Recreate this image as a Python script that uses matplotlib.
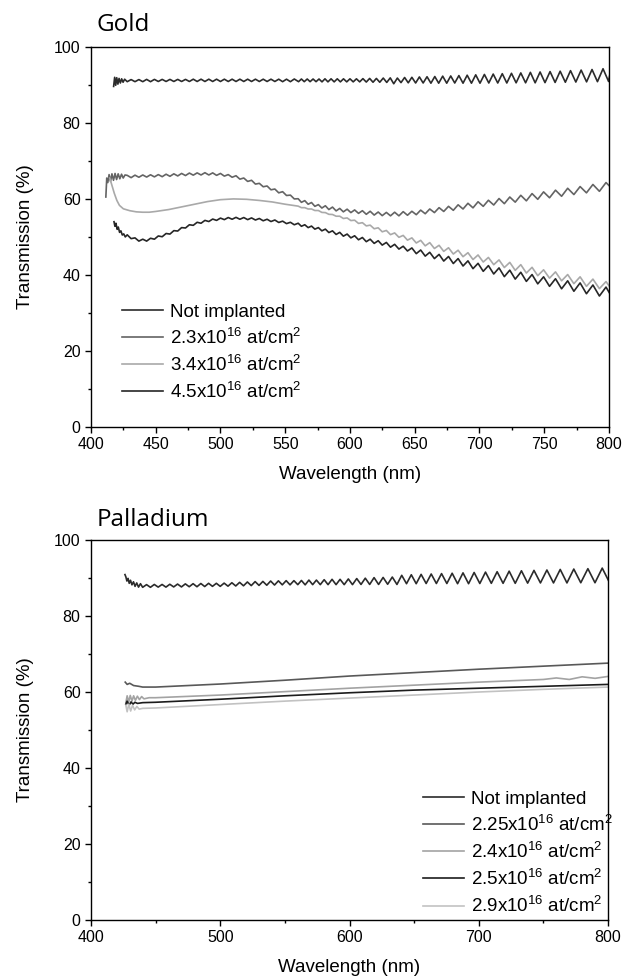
"""Transmission spectra of gold- and palladium-implanted samples."""

import matplotlib as mpl
import matplotlib.pyplot as plt
import numpy as np
from matplotlib.ticker import MultipleLocator

# ---------------- Gold panel ----------------
gold_labels = [
    "Not implanted",
    "2.3x10$^{16}$ at/cm$^{2}$",
    "3.4x10$^{16}$ at/cm$^{2}$",
    "4.5x10$^{16}$ at/cm$^{2}$",
]

# coarse grid used for the short-wavelength part of the fringing curves
gold_short_wl = [
    428, 431, 434, 437, 440, 443, 446, 449, 452, 455,
    458, 461, 464, 467, 470, 473, 476, 479, 482, 485,
    488, 491, 494, 497, 500, 503, 506, 509, 512, 515,
    518, 521, 524, 527, 530, 533, 536, 539, 542, 545,
    548, 551, 554, 557,
]
# fringe extrema shared by the implanted gold curves
gold_fringe_wl = [
    560.0, 562.5, 565.1, 567.7, 570.3, 572.9, 575.6, 578.3, 581.0, 583.7,
    586.5, 589.3, 592.1, 594.9, 597.8, 600.7, 603.6, 606.6, 609.6, 612.6,
    615.6, 618.7, 621.8, 624.9, 628.1, 631.3, 634.5, 637.8, 641.1, 644.4,
    647.8, 651.2, 654.6, 658.1, 661.6, 665.2, 668.8, 672.4, 676.1, 679.8,
    683.5, 687.3, 691.1, 695.0, 698.9, 702.9, 706.9, 711.0, 715.1, 719.2,
    723.4, 727.6, 731.9, 736.2, 740.6, 745.0, 749.5, 754.1, 758.7, 763.4,
    768.1, 772.9, 777.7, 782.6, 787.6, 792.6, 797.7, 802.9,
]

# Not implanted
gold_ni_start_wl = [417.5, 418.3, 419.1, 419.9, 420.8, 421.7, 422.7, 423.7, 424.8, 426.0]
gold_ni_start_t = [89.6, 92.0, 89.9, 91.9, 90.2, 91.7, 90.5, 91.6, 90.7, 91.5]
gold_ni_short_t = [
    90.85, 91.4, 90.85, 91.4, 90.85, 91.45, 90.85, 91.45, 90.9, 91.45,
    90.9, 91.45, 90.9, 91.45, 90.9, 91.45, 90.9, 91.5, 90.9, 91.5,
    90.9, 91.5, 90.9, 91.5, 90.9, 91.5, 90.9, 91.5, 90.9, 91.5,
    90.9, 91.5, 90.9, 91.5, 90.9, 91.5, 90.9, 91.5, 90.9, 91.5,
    90.85, 91.5, 90.85, 91.55,
]
gold_ni_fringe_wl = [
    560.3, 562.5, 564.7, 567.0, 569.2, 571.5, 573.8, 576.1, 578.4, 580.7,
    583.0, 585.4, 587.8, 590.2, 592.6, 595.0, 597.5, 600.0, 602.5, 605.0,
    607.5, 610.0, 612.6, 615.2, 617.8, 620.4, 623.0, 625.7, 628.4, 631.1,
    633.8, 636.6, 639.4, 642.2, 645.0, 647.8, 650.7, 653.6, 656.5, 659.5,
    662.5, 665.5, 668.5, 671.6, 674.7, 677.8, 680.9, 684.1, 687.3, 690.5,
    693.8, 697.1, 700.4, 703.8, 707.2, 710.6, 714.1, 717.6, 721.1, 724.7,
    728.3, 731.9, 735.6, 739.3, 743.0, 746.8, 750.6, 754.5, 758.4, 762.3,
    766.3, 770.3, 774.4, 778.5, 782.7, 786.9, 791.1, 795.4, 799.7, 801.5,
]
gold_ni_fringe_t = [
    90.85, 91.55, 90.85, 91.55, 90.85, 91.55, 90.85, 91.55, 90.8, 91.6,
    90.8, 91.6, 90.8, 91.6, 90.8, 91.6, 90.8, 91.6, 90.8, 91.6,
    90.8, 91.65, 90.75, 91.7, 90.7, 91.7, 90.7, 91.8, 90.65, 91.85,
    90.3, 91.8, 90.6, 91.95, 90.55, 92.0, 90.5, 92.1, 90.5, 92.15,
    90.45, 92.2, 90.45, 92.3, 90.45, 92.35, 90.5, 92.45, 90.45, 92.55,
    90.45, 92.65, 90.45, 92.75, 90.5, 92.85, 90.5, 92.95, 90.5, 93.05,
    90.55, 93.15, 90.55, 93.3, 90.55, 93.4, 90.6, 93.5, 90.65, 93.6,
    90.7, 93.75, 90.75, 93.9, 90.8, 94.05, 90.85, 94.25, 90.9, 94.3,
]

# 2.3x10^16
gold_23_start_wl = [411.5, 412.2, 413.0, 414.0, 415.1, 416.2, 417.4, 418.6, 419.8, 421.0, 422.3, 423.6, 424.9, 426.3]
gold_23_start_t = [60.5, 65.5, 64.3, 66.4, 64.6, 66.6, 64.9, 66.7, 65.1, 66.6, 65.3, 66.5, 65.5, 66.3]
gold_23_short_t = [
    66.2, 65.6, 66.25, 65.7, 66.3, 65.75, 66.35, 65.8, 66.4, 65.85,
    66.5, 65.95, 66.6, 66.05, 66.7, 66.15, 66.8, 66.25, 66.85, 66.3,
    66.9, 66.3, 66.85, 66.2, 66.7, 66.0, 66.4, 65.7, 66.1, 65.2,
    65.5, 64.6, 64.9, 63.9, 64.1, 63.2, 63.4, 62.4, 62.6, 61.6,
    61.9, 60.9, 61.0, 60.0,
]
gold_23_fringe_t = [
    60.05, 59.1, 59.55, 58.6, 59.05, 58.05, 58.5, 57.6, 58.2, 57.2,
    57.85, 56.85, 57.5, 56.6, 57.3, 56.4, 57.1, 56.2, 56.9, 55.95,
    56.75, 55.75, 56.55, 55.6, 56.45, 55.55, 56.5, 55.55, 56.65, 55.7,
    56.75, 55.85, 57.05, 56.1, 57.35, 56.4, 57.7, 56.7, 58.05, 57.0,
    58.45, 57.35, 58.85, 57.65, 59.25, 58.05, 59.65, 58.4, 60.1, 58.75,
    60.5, 59.15, 60.95, 59.5, 61.4, 59.9, 61.85, 60.3, 62.3, 60.7,
    62.8, 61.15, 63.25, 61.6, 63.8, 62.0, 64.3, 62.55,
]

# 3.4x10^16 (smooth below 560 nm)
gold_34_start_wl = [
    414.5, 416, 418, 420, 422, 425, 430, 435, 440, 445,
    450, 460, 470, 480, 490, 500, 510, 520, 530, 540, 550,
]
gold_34_start_t = [
    65.5, 63.8, 61.5, 59.6, 58.3, 57.4, 56.9, 56.6, 56.5, 56.5,
    56.7, 57.2, 57.9, 58.6, 59.3, 59.8, 60.0, 59.9, 59.6, 59.2, 58.6,
]
gold_34_fringe_t = [
    58.1, 57.7, 57.7, 57.35, 57.35, 56.95, 56.95, 56.45, 56.4, 55.95,
    55.9, 55.45, 55.45, 54.85, 55.0, 54.3, 54.4, 53.55, 53.75, 52.9,
    53.1, 52.15, 52.4, 51.35, 51.7, 50.6, 51.05, 49.9, 50.4, 49.15,
    49.75, 48.4, 49.1, 47.65, 48.5, 46.95, 47.8, 46.2, 47.15, 45.5,
    46.5, 44.8, 45.85, 44.05, 45.25, 43.4, 44.6, 42.7, 43.95, 41.95,
    43.3, 41.2, 42.7, 40.5, 42.0, 39.8, 41.35, 39.15, 40.8, 38.45,
    40.1, 37.7, 39.5, 37.0, 38.9, 36.4, 38.25, 35.8,
]

# 4.5x10^16
gold_45_start_wl = [417.8, 418.5, 419.3, 420.2, 421.1, 422.1, 423.1, 424.2, 425.3, 426.5]
gold_45_start_t = [54.0, 52.8, 53.6, 52.0, 52.6, 51.2, 51.6, 50.5, 50.8, 50.0]
gold_45_short_t = [
    50.55, 49.55, 49.75, 48.9, 49.4, 48.9, 49.65, 49.4, 50.25, 50.05,
    50.9, 50.75, 51.65, 51.55, 52.45, 52.35, 53.2, 53.05, 53.85, 53.6,
    54.35, 54.05, 54.7, 54.35, 54.95, 54.55, 55.1, 54.65, 55.15, 54.65,
    55.1, 54.55, 55.0, 54.45, 54.85, 54.25, 54.65, 54.05, 54.45, 53.8,
    54.15, 53.5, 53.85, 53.2,
]
gold_45_fringe_t = [
    53.6, 52.8, 53.2, 52.45, 52.85, 52.05, 52.45, 51.6, 52.05, 51.15,
    51.6, 50.65, 51.2, 50.2, 50.75, 49.75, 50.3, 49.25, 49.85, 48.75,
    49.4, 48.3, 49.0, 47.85, 48.55, 47.3, 48.05, 46.8, 47.55, 46.3,
    47.1, 45.6, 46.55, 44.95, 45.95, 44.3, 45.4, 43.65, 44.85, 43.0,
    44.3, 42.35, 43.7, 41.65, 43.05, 40.95, 42.45, 40.25, 41.85, 39.55,
    41.25, 38.9, 40.7, 38.3, 40.1, 37.65, 39.5, 37.0, 39.0, 36.35,
    38.45, 35.7, 37.9, 35.05, 37.35, 34.45, 36.8, 33.8,
]

# ---------------- Palladium panel ----------------
pd_labels = [
    "Not implanted",
    "2.25x10$^{16}$ at/cm$^{2}$",
    "2.4x10$^{16}$ at/cm$^{2}$",
    "2.5x10$^{16}$ at/cm$^{2}$",
    "2.9x10$^{16}$ at/cm$^{2}$",
]

pd_ni_start_wl = [426.3, 427.0, 427.8, 428.7, 429.6, 430.6, 431.7, 432.9, 434.1, 435.4, 436.8, 438.3]
pd_ni_start_t = [90.9, 90.3, 89.2, 89.9, 88.6, 89.4, 88.2, 89.0, 87.8, 88.7, 87.6, 88.5]
pd_short_wl = [
    440, 443, 446, 449, 452, 455, 458, 461, 464, 467,
    470, 473, 476, 479, 482, 485, 488, 491, 494, 497,
    500, 503, 506, 509, 512, 515, 518, 521, 524, 527,
    530, 533, 536, 539, 542, 545, 548, 551, 554, 557,
]
pd_ni_short_t = [
    87.55, 88.25, 87.55, 88.3, 87.6, 88.3, 87.6, 88.35, 87.65, 88.4,
    87.65, 88.45, 87.7, 88.5, 87.7, 88.55, 87.75, 88.6, 87.8, 88.6,
    87.8, 88.65, 87.85, 88.75, 87.9, 88.85, 87.95, 88.95, 88.0, 89.05,
    88.05, 89.1, 88.1, 89.2, 88.15, 89.25, 88.2, 89.3, 88.2, 89.3,
]
pd_fringe_wl = [
    560.0, 562.8, 565.7, 568.6, 571.5, 574.4, 577.4, 580.4, 583.4, 586.5,
    589.6, 592.7, 595.9, 599.1, 602.3, 605.6, 608.9, 612.2, 615.6, 619.0,
    622.5, 626.0, 629.5, 633.1, 636.7, 640.4, 644.1, 647.8, 651.6, 655.4,
    659.3, 663.2, 667.2, 671.2, 675.3, 679.4, 683.6, 687.8, 692.1, 696.4,
    700.8, 705.2, 709.7, 714.2, 718.8, 723.5, 728.2, 733.0, 737.8, 742.7,
    747.7, 752.7, 757.8, 763.0, 768.2, 773.5, 778.9, 784.4, 789.9, 795.5,
    801.2,
]
pd_ni_fringe_t = [
    88.25, 89.35, 88.2, 89.45, 88.25, 89.45, 88.25, 89.55, 88.25, 89.65,
    88.25, 89.65, 88.25, 89.75, 88.25, 89.85, 88.3, 89.95, 88.3, 90.1,
    88.3, 90.15, 88.35, 90.25, 88.3, 90.7, 88.5, 90.85, 88.5, 90.95,
    88.55, 91.05, 88.55, 91.15, 88.55, 91.25, 88.5, 91.35, 88.5, 91.45,
    88.55, 91.55, 88.6, 91.65, 88.6, 91.8, 88.6, 91.9, 88.65, 92.0,
    88.7, 92.1, 88.7, 92.25, 88.7, 92.35, 88.75, 92.45, 88.75, 92.6,
    88.75,
]

pd_225_wl = [426.5, 428, 430, 433, 437, 440, 450, 500, 550, 600, 650, 700, 750, 800]
pd_225_t = [62.6, 62.0, 62.3, 61.7, 61.5, 61.3, 61.3, 62.1, 63.1, 64.2, 65.1, 66.0, 66.8, 67.6]

pd_24_wl = [427.0, 428.0, 429.2, 430.4, 431.7, 433.0, 434.4, 435.9, 437.5, 439.2, 441, 445,
            450, 500, 550, 600, 650, 700, 750, 760, 770, 780, 790, 800]
pd_24_t = [57.2, 59.0, 57.4, 59.1, 57.6, 59.0, 57.8, 58.9, 58.0, 58.8, 58.2, 58.5,
           58.5, 59.2, 60.1, 61.0, 61.8, 62.6, 63.3, 63.7, 63.3, 64.0, 63.6, 64.1]

pd_25_wl = [427, 428, 429.5, 431, 432.5, 434, 436, 440, 450, 500, 550, 600, 650, 700, 750, 800]
pd_25_t = [56.8, 57.6, 56.5, 57.4, 56.8, 57.3, 57.0, 57.2, 57.3, 58.1, 59.0, 59.8, 60.5, 61.0, 61.5, 62.0]

pd_29_wl = [427, 428, 429.3, 430.7, 432.2, 433.8, 435.5, 437.3, 440, 450, 500, 550, 600, 650, 700, 750, 800]
pd_29_t = [56.5, 54.8, 56.8, 55.0, 56.5, 55.3, 56.2, 55.5, 55.7, 55.8, 56.7, 57.6, 58.4, 59.2, 60.0, 60.7, 61.3]


def style_axes(ax, major, minor):
    ax.set_xlim(400, 800)
    ax.set_ylim(0, 100)
    ax.xaxis.set_major_locator(MultipleLocator(major))
    ax.xaxis.set_minor_locator(MultipleLocator(minor))
    ax.yaxis.set_major_locator(MultipleLocator(20))
    ax.yaxis.set_minor_locator(MultipleLocator(10))
    ax.tick_params(which="both", direction="out", top=False, right=False, width=1.0, labelsize=11.5)
    ax.tick_params(which="major", length=4.5, pad=3)
    ax.tick_params(which="minor", length=2.5)
    for spine in ax.spines.values():
        spine.set_linewidth(1.0)
    ax.set_xlabel("Wavelength (nm)", fontsize=13.5, labelpad=9.5)
    ax.set_ylabel("Transmission (%)", fontsize=13.5, labelpad=14)


def main() -> None:
    mpl.rcParams.update(
        {
            "font.family": "Liberation Sans",
            "mathtext.fontset": "custom",
            "mathtext.rm": "Liberation Sans",
            "mathtext.it": "Liberation Sans",
            "axes.linewidth": 1.0,
        }
    )

    fig = plt.figure(figsize=(6.23, 9.77), dpi=100)
    ax_au = fig.add_axes([0.146, 0.563, 0.8315, 0.389])
    ax_pd = fig.add_axes([0.146, 0.0583, 0.830, 0.389])

    lw = 1.2
    # gold
    ni_wl = np.concatenate([gold_ni_start_wl, gold_short_wl, gold_ni_fringe_wl])
    ni_t = np.concatenate([gold_ni_start_t, gold_ni_short_t, gold_ni_fringe_t])
    g23_wl = np.concatenate([gold_23_start_wl, gold_short_wl, gold_fringe_wl])
    g23_t = np.concatenate([gold_23_start_t, gold_23_short_t, gold_23_fringe_t])
    g34_wl = np.concatenate([gold_34_start_wl, gold_fringe_wl])
    g34_t = np.concatenate([gold_34_start_t, gold_34_fringe_t])
    g45_wl = np.concatenate([gold_45_start_wl, gold_short_wl, gold_fringe_wl])
    g45_t = np.concatenate([gold_45_start_t, gold_45_short_t, gold_45_fringe_t])

    gold_series = [(ni_wl, ni_t, "#2b2b2b"), (g23_wl, g23_t, "#646464"),
                   (g34_wl, g34_t, "#a9a9a9"), (g45_wl, g45_t, "#262626")]
    for (wl, t, color), label in zip(gold_series, gold_labels):
        ax_au.plot(wl, t, color=color, lw=lw, label=label)

    style_axes(ax_au, 50, 25)
    ax_au.legend(loc="upper left", bbox_to_anchor=(0.06, 0.325), frameon=False, fontsize=13.5,
                 handlelength=2.2, handletextpad=0.35, labelspacing=0.37, borderpad=0, borderaxespad=0)

    # palladium
    pni_wl = np.concatenate([pd_ni_start_wl, pd_short_wl, pd_fringe_wl])
    pni_t = np.concatenate([pd_ni_start_t, pd_ni_short_t, pd_ni_fringe_t])
    pd_series = [(pni_wl, pni_t, "#2b2b2b"), (pd_225_wl, pd_225_t, "#595959"),
                 (pd_24_wl, pd_24_t, "#a3a3a3"), (pd_25_wl, pd_25_t, "#1c1c1c"),
                 (pd_29_wl, pd_29_t, "#c2c2c2")]
    for (wl, t, color), label in zip(pd_series, pd_labels):
        ax_pd.plot(wl, t, color=color, lw=lw, label=label)

    style_axes(ax_pd, 100, 50)
    ax_pd.legend(loc="upper left", bbox_to_anchor=(0.642, 0.34), frameon=False, fontsize=13.5,
                 handlelength=2.2, handletextpad=0.35, labelspacing=0.37, borderpad=0, borderaxespad=0)

    fig.text(97 / 623, 1 - 31 / 977, "Gold", fontsize=17.5, family="Open Sans", va="baseline")
    fig.text(97 / 623, 1 - 526 / 977, "Palladium", fontsize=17.5, family="Open Sans", va="baseline")

    fig.savefig("out.png", dpi=100)
    plt.close(fig)


if __name__ == "__main__":
    main()
